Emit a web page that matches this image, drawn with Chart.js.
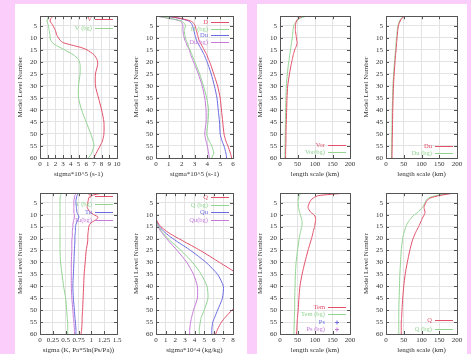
<!DOCTYPE html>
<html>
<head>
<meta charset="utf-8">
<script src="https://cdn.jsdelivr.net/npm/chart.js@4.4.1/dist/chart.umd.min.js"></script>
<style>
html, body { margin: 0; padding: 0; }
body { width: 471px; height: 354px; background: #facdfa; position: relative; overflow: hidden; }
.sheet { position: absolute; background: #fff; top: 4px; height: 352px; }
canvas { position: absolute; }
</style>
</head>
<body>
<div class="sheet" style="left:15px;width:232px"></div>
<div class="sheet" style="left:257px;width:210px"></div>
<canvas id="p1"></canvas><canvas id="p2"></canvas><canvas id="p3"></canvas><canvas id="p4"></canvas>
<canvas id="p5"></canvas><canvas id="p6"></canvas><canvas id="p7"></canvas><canvas id="p8"></canvas>
<script>
// ─── Data ──────────────────────────────────────────────────────────────────
const LEVELS = [1, 2, 3, 4, 5, 7, 9, 10, 11, 12, 13, 14, 15, 17, 19, 21, 25, 30, 35, 40, 45, 50, 53, 55, 58, 60];
const LEVEL_TICKS = [5, 10, 15, 20, 25, 30, 35, 40, 45, 50, 55, 60];

const TICKS_0_10 = [0, 1, 2, 3, 4, 5, 6, 7, 8, 9, 10];
const TICKS_0_6 = [0, 1, 2, 3, 4, 5, 6];
const TICKS_0_8 = [0, 1, 2, 3, 4, 5, 6, 7, 8];
const TICKS_KM = [0, 50, 100, 150, 200];
const TICKS_T = [0, 0.25, 0.5, 0.75, 1, 1.25, 1.5];

// panel 1: V
const V_SIGMA    = [1.7, 1.4, 1.3, 1.5, 1.7, 2.0, 2.2, 2.4, 2.6, 3.0, 4.1, 5.3, 6.1, 7.0, 7.4, 7.5, 7.2, 7.2, 7.6, 8.0, 8.3, 8.3, 8.1, 7.8, 7.3, 7.0];
const V_BG_SIGMA = [1.3, 1.0, 0.9, 1.0, 1.1, 1.2, 1.3, 1.3, 1.4, 1.6, 2.0, 2.6, 3.2, 4.3, 5.0, 5.2, 5.2, 5.0, 5.0, 5.4, 6.0, 6.6, 6.9, 7.0, 6.7, 6.3];

// panel 2: D / Du
const D_SIGMA     = [0.9, 2.0, 2.7, 2.95, 3.05, 3.15, 3.25, 3.3, 3.35, 3.45, 3.55, 3.65, 3.75, 3.95, 4.1, 4.25, 4.5, 4.8, 5.0, 5.1, 5.2, 5.3, 5.45, 5.6, 5.8, 5.9];
const D_BG_SIGMA  = [0.1, 1.2, 2.0, 2.2, 2.3, 2.2, 2.25, 2.3, 2.35, 2.45, 2.5, 2.55, 2.65, 2.8, 2.95, 3.1, 3.4, 3.7, 3.95, 4.1, 4.05, 3.95, 4.15, 4.35, 4.5, 4.35];
const DU_SIGMA    = [0.8, 1.9, 2.55, 2.75, 2.85, 2.95, 3.05, 3.1, 3.15, 3.25, 3.35, 3.45, 3.55, 3.75, 3.9, 4.05, 4.3, 4.55, 4.75, 4.85, 4.95, 5.0, 5.15, 5.3, 5.45, 5.5];
const DU_BG_SIGMA = [0.05, 1.1, 1.9, 2.05, 2.1, 2.1, 2.15, 2.2, 2.25, 2.35, 2.4, 2.5, 2.6, 2.7, 2.85, 3.0, 3.3, 3.6, 3.8, 3.9, 3.9, 3.8, 3.9, 4.0, 4.1, 4.15];

// panel 3: Vor length scale
const VOR_LEN    = [65, 52, 47, 45, 44, 44, 46, 47, 48, 49, 48, 45, 42, 38, 35, 32, 27, 22, 20, 19, 18, 17, 17, 16.5, 16, 16];
const VOR_BG_LEN = [75, 55, 48, 42, 39, 37, 36, 35, 34, 33, 32, 31, 30, 28, 26, 24, 21, 18, 17, 16, 15.5, 15, 14.5, 14.5, 14, 14];

// panel 4: Du length scale
const DU_LEN    = [52, 44, 40, 37, 35, 33, 32, 31, 30.5, 30, 29.5, 29, 28.5, 27, 26, 25, 23, 21, 20, 19, 18.5, 18, 17.5, 17.5, 17, 17];
const DU_BG_LEN = [50, 42, 38, 35.5, 33.5, 31.5, 30.5, 29.5, 29, 28.5, 28, 27.5, 27, 25.5, 24.5, 23.5, 21.5, 19.5, 18.5, 17.5, 17, 16.5, 16, 16, 15.5, 15.5];

// panel 5: T / Tu
const T_SIGMA     = [1.2, 1.0, 0.95, 0.94, 0.93, 0.92, 0.98, 1.05, 1.13, 1.1, 1.02, 0.97, 0.95, 0.94, 0.93, 0.93, 0.9, 0.88, 0.86, 0.85, 0.84, 0.83, 0.82, 0.82, 0.81, 0.8];
const T_BG_SIGMA  = [0.42, 0.4, 0.39, 0.39, 0.39, 0.39, 0.39, 0.39, 0.39, 0.39, 0.39, 0.39, 0.39, 0.39, 0.39, 0.39, 0.39, 0.4, 0.43, 0.46, 0.5, 0.52, 0.53, 0.54, 0.54, 0.54];
const TU_SIGMA    = [0.75, 0.72, 0.71, 0.7, 0.7, 0.71, 0.72, 0.74, 0.76, 0.74, 0.72, 0.7, 0.69, 0.69, 0.68, 0.68, 0.67, 0.66, 0.65, 0.64, 0.65, 0.67, 0.68, 0.69, 0.7, 0.7];
const TU_BG_SIGMA = [0.7, 0.68, 0.67, 0.66, 0.66, 0.66, 0.66, 0.67, 0.67, 0.66, 0.65, 0.64, 0.64, 0.63, 0.63, 0.62, 0.62, 0.61, 0.61, 0.61, 0.62, 0.64, 0.65, 0.66, 0.67, 0.67];

// panel 6: Q / Qu
const Q_SIGMA     = [0, 0, 0, 0, 0, 0, 0, 0, 0, 0.05, 0.15, 0.3, 0.5, 1.1, 1.9, 2.8, 4.6, 6.6, 8.5, 9.5, 9.5, 7.9, 7.2, 6.8, 6.4, 6.2];
const Q_BG_SIGMA  = [0, 0, 0, 0, 0, 0, 0, 0, 0, 0, 0.05, 0.12, 0.25, 0.6, 1.0, 1.5, 2.6, 3.8, 4.7, 5.3, 5.4, 5.0, 4.7, 4.6, 4.5, 4.5];
const QU_SIGMA    = [0, 0, 0, 0, 0, 0, 0, 0, 0, 0, 0.1, 0.2, 0.35, 0.8, 1.4, 2.1, 3.6, 5.2, 6.4, 7.0, 6.9, 6.4, 6.1, 5.9, 5.8, 5.8];
const QU_BG_SIGMA = [0, 0, 0, 0, 0, 0, 0, 0, 0, 0, 0, 0.08, 0.2, 0.5, 0.9, 1.3, 2.2, 3.2, 3.9, 4.3, 4.3, 3.9, 3.7, 3.6, 3.5, 3.5];

// panel 7: Tem / Ps length scale
const TEM_LEN    = [185, 110, 95, 88, 84, 80, 88, 97, 101, 102, 101, 100, 99, 95, 92, 88, 80, 71, 63, 57, 54, 52, 50, 49, 48, 47];
const TEM_BG_LEN = [60, 55, 53, 52, 52, 53, 56, 58, 60, 62, 63, 63, 62, 59, 56, 54, 50, 46, 44, 43, 42, 42, 41, 41, 40, 40];
const PS_LEN = [];
const PS_BG_LEN = [];

// panel 8: Q length scale
const Q_LEN    = [190, 150, 125, 116, 112, 107, 110, 108, 104, 101, 98, 95, 92, 85, 79, 74, 67, 60, 54, 50, 47, 45, 44, 43, 43, 43];
const Q_BG_LEN = [180, 140, 120, 113, 110, 102, 90, 80, 73, 68, 63, 59, 56, 52, 48, 46, 43, 41, 39, 38, 37, 36, 36, 36, 36, 36];

// ─── Styles ────────────────────────────────────────────────────────────────
const RED = '#e2506a', GREEN = '#93d493', BLUE = '#6b6be0', PURPLE = '#c57ad8';
const FONT = { family: '"Liberation Serif", serif', size: 7 };
const INK = '#333';

function pts(vals) {
    return vals.map(function (v, i) { return { x: v, y: LEVELS[i] }; });
}

function series(label, vals, color, marker) {
    return {
        label: label,
        data: pts(vals),
        borderColor: color,
        backgroundColor: color,
        borderWidth: 1,
        showLine: true,
        pointRadius: 0,
        tension: 0.2,
        marker: !!marker
    };
}

// gnuplot-ish frame with inward ticks on all four sides
const framePlugin = {
    id: 'frame',
    afterDraw: function (chart) {
        const a = chart.chartArea, ctx = chart.ctx;
        const xs = chart.scales.x, ys = chart.scales.y;
        ctx.save();
        ctx.strokeStyle = '#555';
        ctx.lineWidth = 1;
        ctx.strokeRect(Math.round(a.left) + 0.5, Math.round(a.top) + 0.5,
            Math.round(a.right - a.left), Math.round(a.bottom - a.top));
        ctx.beginPath();
        xs.ticks.forEach(function (t) {
            const px = Math.round(xs.getPixelForValue(t.value)) + 0.5;
            ctx.moveTo(px, a.bottom); ctx.lineTo(px, a.bottom - 3);
            ctx.moveTo(px, a.top); ctx.lineTo(px, a.top + 3);
        });
        ys.ticks.forEach(function (t) {
            const py = Math.round(ys.getPixelForValue(t.value)) + 0.5;
            ctx.moveTo(a.left, py); ctx.lineTo(a.left + 3, py);
            ctx.moveTo(a.right, py); ctx.lineTo(a.right - 3, py);
        });
        ctx.stroke();
        ctx.restore();
    }
};

// key drawn inside the plot: coloured label, then a line sample
const keyPlugin = {
    id: 'key',
    afterDatasetsDraw: function (chart, args, opts) {
        const a = chart.chartArea, ctx = chart.ctx;
        const sets = chart.data.datasets, n = sets.length;
        const y0 = opts.from === 'bottom' ? a.bottom - opts.offset - (n - 1) * opts.step : a.top + opts.offset;
        ctx.save();
        ctx.font = '6.5px "Liberation Serif", serif';
        ctx.textAlign = 'right';
        ctx.textBaseline = 'middle';
        sets.forEach(function (ds, i) {
            const y = Math.round(y0 + i * opts.step) + 0.5;
            ctx.fillStyle = ds.borderColor;
            ctx.fillText(ds.label, a.right - 25, y);
            ctx.strokeStyle = ds.borderColor;
            ctx.lineWidth = 1;
            ctx.beginPath();
            if (ds.marker) {
                const cx = a.right - 13;
                ctx.moveTo(cx - 2, y); ctx.lineTo(cx + 2, y);
                ctx.moveTo(cx, y - 2); ctx.lineTo(cx, y + 2);
            } else {
                ctx.moveTo(a.right - 22, y); ctx.lineTo(a.right - 4, y);
            }
            ctx.stroke();
        });
        ctx.restore();
    }
};

function makePanel(id, box, xMax, xTicks, xTitle, datasets, key) {
    const L = box[0], T = box[1], R = box[2], B = box[3];
    const yW = 24, xH = 20, padT = 4, padR = 8;
    const el = document.getElementById(id);
    el.width = yW + (R - L) + padR;
    el.height = padT + (B - T) + xH;
    el.style.left = (L - yW) + 'px';
    el.style.top = (T - padT) + 'px';

    new Chart(el, {
        type: 'scatter',
        data: { datasets: datasets },
        options: {
            responsive: false,
            animation: false,
            devicePixelRatio: 1,
            events: [],
            layout: { padding: { top: padT, right: padR, left: 0, bottom: 0 } },
            plugins: {
                legend: { display: false },
                tooltip: { enabled: false },
                key: key
            },
            scales: {
                x: {
                    type: 'linear',
                    min: 0,
                    max: xMax,
                    afterBuildTicks: function (s) { s.ticks = xTicks.map(function (v) { return { value: v }; }); },
                    afterFit: function (s) { s.height = xH; },
                    ticks: {
                        autoSkip: false, maxRotation: 0, padding: 2, color: INK, font: FONT,
                        callback: function (v) { return String(v); }
                    },
                    grid: { color: '#e3e3e3', drawTicks: false },
                    border: { display: false },
                    title: { display: true, text: xTitle, color: INK, font: FONT, padding: 0 }
                },
                y: {
                    type: 'linear',
                    min: 1,
                    max: 60,
                    reverse: true,
                    afterBuildTicks: function (s) { s.ticks = LEVEL_TICKS.map(function (v) { return { value: v }; }); },
                    afterFit: function (s) { s.width = yW; },
                    ticks: { autoSkip: false, padding: 3, color: INK, font: FONT },
                    grid: { color: '#e3e3e3', drawTicks: false },
                    border: { display: false },
                    title: { display: true, text: 'Model Level Number', color: INK, font: FONT, padding: 0 }
                }
            }
        },
        plugins: [framePlugin, keyPlugin]
    });
}

document.addEventListener('DOMContentLoaded', function () {

    // ─── Top row ──────────────────────────────────────────────────────────
    makePanel('p1', [40, 13, 117, 158], 10, TICKS_0_10, 'sigma*10^5 (s-1)', [
        series('V', V_SIGMA, RED),
        series('V (bg)', V_BG_SIGMA, GREEN)
    ], { from: 'top', offset: 3, step: 9 });

    makePanel('p2', [156, 13, 233, 158], 6, TICKS_0_6, 'sigma*10^5 (s-1)', [
        series('D', D_SIGMA, RED),
        series('D (bg)', D_BG_SIGMA, GREEN),
        series('Du', DU_SIGMA, BLUE),
        series('Du(bg)', DU_BG_SIGMA, PURPLE)
    ], { from: 'top', offset: 6, step: 6.5 });

    makePanel('p3', [280, 13, 350, 158], 200, TICKS_KM, 'length scale (km)', [
        series('Vor', VOR_LEN, RED),
        series('Vor(bg)', VOR_BG_LEN, GREEN)
    ], { from: 'bottom', offset: 6, step: 7 });

    makePanel('p4', [386, 13, 457, 158], 200, TICKS_KM, 'length scale (km)', [
        series('Du', DU_LEN, RED),
        series('Du (bg)', DU_BG_LEN, GREEN)
    ], { from: 'bottom', offset: 5, step: 7 });

    // ─── Bottom row ───────────────────────────────────────────────────────
    makePanel('p5', [40, 190, 117, 334], 1.5, TICKS_T, 'sigma (K, Pa*5ln(Ps/Pa))', [
        series('T', T_SIGMA, RED),
        series('T (bg)', T_BG_SIGMA, GREEN),
        series('Tu', TU_SIGMA, BLUE),
        series('Tu(bg)', TU_BG_SIGMA, PURPLE)
    ], { from: 'top', offset: 3, step: 8 });

    makePanel('p6', [156, 190, 233, 334], 8, TICKS_0_8, 'sigma*10^4 (kg/kg)', [
        series('Q', Q_SIGMA, RED),
        series('Q (bg)', Q_BG_SIGMA, GREEN),
        series('Qu', QU_SIGMA, BLUE),
        series('Qu(bg)', QU_BG_SIGMA, PURPLE)
    ], { from: 'top', offset: 4, step: 7.5 });

    makePanel('p7', [280, 190, 350, 334], 200, TICKS_KM, 'length scale (km)', [
        series('Tem', TEM_LEN, RED),
        series('Tem (bg)', TEM_BG_LEN, GREEN),
        series('Ps', PS_LEN, BLUE, true),
        series('Ps (bg)', PS_BG_LEN, PURPLE, true)
    ], { from: 'bottom', offset: 5, step: 7.3 });

    makePanel('p8', [386, 190, 457, 334], 200, TICKS_KM, 'length scale (km)', [
        series('Q', Q_LEN, RED),
        series('Q (bg)', Q_BG_LEN, GREEN)
    ], { from: 'bottom', offset: 5, step: 9 });

});
</script>
</body>
</html>
